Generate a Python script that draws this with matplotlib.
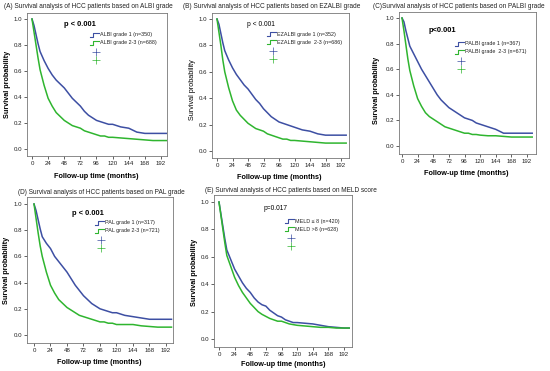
import matplotlib.pyplot as plt
import numpy as np

plt.rcParams['font.family'] = ['Liberation Sans', 'DejaVu Sans']

months = [0, 3, 6, 9, 12, 18, 24, 30, 36, 42, 48, 54, 60, 66, 72, 78, 84, 90,
          96, 102, 108, 114, 120, 132, 144, 156, 168, 180, 192, 200]

albi_1 = [1.0, 0.95, 0.88, 0.81, 0.75, 0.68, 0.62, 0.57, 0.53, 0.50, 0.47, 0.43, 0.39, 0.36, 0.33,
          0.29, 0.26, 0.24, 0.22, 0.21, 0.20, 0.19, 0.19, 0.17, 0.16, 0.13, 0.12, 0.12, 0.12, 0.12]
albi_2 = [1.0, 0.90, 0.80, 0.70, 0.61, 0.49, 0.39, 0.33, 0.28, 0.25, 0.22, 0.20, 0.18, 0.17, 0.16,
          0.14, 0.13, 0.12, 0.11, 0.10, 0.10, 0.09, 0.09, 0.085, 0.08, 0.075, 0.07, 0.065, 0.065, 0.065]
ezalbi_1 = [1.0, 0.96, 0.89, 0.82, 0.76, 0.69, 0.63, 0.58, 0.54, 0.50, 0.47, 0.43, 0.39, 0.36, 0.32,
            0.29, 0.26, 0.24, 0.22, 0.21, 0.20, 0.19, 0.18, 0.16, 0.15, 0.13, 0.12, 0.12, 0.12, 0.12]
ezalbi_2 = [1.0, 0.90, 0.80, 0.69, 0.60, 0.48, 0.38, 0.31, 0.27, 0.24, 0.21, 0.19, 0.17, 0.16, 0.15,
            0.13, 0.12, 0.11, 0.10, 0.09, 0.09, 0.08, 0.08, 0.075, 0.07, 0.065, 0.06, 0.06, 0.06, 0.06]
palbi_1 = [1.0, 0.97, 0.90, 0.84, 0.78, 0.72, 0.66, 0.60, 0.55, 0.50, 0.45, 0.40, 0.36, 0.33, 0.30,
           0.28, 0.26, 0.24, 0.22, 0.21, 0.20, 0.18, 0.17, 0.15, 0.13, 0.10, 0.10, 0.10, 0.10, 0.10]
palbi_2 = [1.0, 0.90, 0.79, 0.68, 0.59, 0.47, 0.37, 0.31, 0.26, 0.23, 0.21, 0.19, 0.17, 0.15, 0.14,
           0.13, 0.12, 0.11, 0.10, 0.10, 0.09, 0.09, 0.085, 0.08, 0.08, 0.075, 0.07, 0.07, 0.07, 0.07]
pal_1 = [1.0, 0.95, 0.88, 0.81, 0.75, 0.70, 0.66, 0.60, 0.56, 0.52, 0.48, 0.43, 0.38, 0.34, 0.30,
         0.27, 0.24, 0.22, 0.20, 0.19, 0.18, 0.17, 0.17, 0.15, 0.14, 0.13, 0.12, 0.12, 0.12, 0.12]
pal_2 = [1.0, 0.89, 0.78, 0.68, 0.60, 0.48, 0.38, 0.32, 0.27, 0.24, 0.21, 0.19, 0.17, 0.15, 0.14,
         0.13, 0.12, 0.11, 0.10, 0.10, 0.09, 0.09, 0.08, 0.08, 0.08, 0.07, 0.065, 0.06, 0.06, 0.06]
meld_lo = [1.0, 0.91, 0.82, 0.73, 0.65, 0.58, 0.51, 0.46, 0.41, 0.37, 0.34, 0.30, 0.27, 0.25, 0.24,
           0.21, 0.19, 0.17, 0.16, 0.14, 0.13, 0.12, 0.12, 0.115, 0.11, 0.10, 0.09, 0.085, 0.08, 0.08]
meld_hi = [1.0, 0.90, 0.80, 0.70, 0.61, 0.53, 0.45, 0.39, 0.34, 0.30, 0.26, 0.23, 0.20, 0.18, 0.165,
           0.15, 0.14, 0.13, 0.13, 0.12, 0.11, 0.105, 0.10, 0.095, 0.09, 0.085, 0.085, 0.08, 0.08, 0.08]

titles = ['(A) Survival analysis of HCC patients based on ALBI grade',
          '(B) Survival analysis of HCC patients based on EZALBI grade',
          '(C)Survival analysis of HCC patients based on PALBI grade',
          '(D) Survival analysis of HCC patients based on PAL grade',
          '(E) Survival analysis of HCC patients based on MELD score']
legend_labels = [['ALBI grade 1 (n=350)', 'ALBI grade 2-3 (n=688)'],
                 ['EZALBI grade 1 (n=352)', 'EZALBI grade  2-3 (n=686)'],
                 ['PALBI grade 1 (n=367)', 'PALBI grade  2-3 (n=671)'],
                 ['PAL grade 1 (n=317)', 'PAL grade 2-3 (n=721)'],
                 ['MELD \u2264 8 (n=420)', 'MELD >8 (n=628)']]
p_labels = ['p < 0.001', 'p < 0.001', 'p<0.001', 'p < 0.001', 'p=0.017']
curves = [(albi_1, albi_2), (ezalbi_1, ezalbi_2), (palbi_1, palbi_2),
          (pal_1, pal_2), (meld_lo, meld_hi)]

W, H = 550, 371
blue = '#3d4fa3'
green = '#2fb52f'

# pixel layout: x of 0 / 192 months, y of 1.0 / 0.0, frame left/right/top/bottom
layout = [(32, 161, 19, 149, 27, 167, 13, 156),
          (217, 341, 19, 151, 212, 349, 13, 158),
          (402, 527, 18, 146, 399, 536, 12, 154),
          (34, 166, 204, 335, 27, 173, 197, 343),
          (219, 344, 202, 339, 214, 352, 195, 347)]
title_pos = [(4, 6), (183, 6), (373, 6), (18, 192), (205, 191)]
ylab_pos = [(8, 84), (192, 90), (376, 90), (7, 270), (194, 272)]
xlab_pos = [(96, 176), (279, 178), (466, 174), (99, 363), (283, 365)]
p_pos = [(48, 0.96, True), (46, 0.955, False), (40, 0.905, True), (55, 0.93, True), (68, 0.95, False)]
leg_pos = [(86, 0.877), (77, 0.886), (81, 0.80), (89, 0.855), (101, 0.86)]
bold_ylab = [True, False, True, True, True]

fig = plt.figure(figsize=(5.5, 3.71), dpi=100)

for i in range(5):
    x0, x192, y1, y0, L, R, T, B = layout[i]
    mpp = 192.0 / (x192 - x0)
    upp = 1.0 / (y0 - y1)
    ax = fig.add_axes([L / W, 1 - B / H, (R - L) / W, (B - T) / H])
    ax.set_xlim((L - x0) * mpp, (R - x0) * mpp)
    ax.set_ylim((y0 - B) * upp, (y0 - T) * upp)

    s1, s2 = curves[i]
    ax.plot(months, s1, color=blue, lw=1.1)
    ax.plot(months, s2, color=green, lw=1.1)

    ax.set_xticks(np.arange(0, 193, 24))
    ax.set_yticks(np.arange(0, 1.01, 0.2))
    ax.set_yticklabels(['%.1f' % v for v in np.arange(0, 1.01, 0.2)])
    ax.tick_params(labelsize=4.4, length=2, width=0.5, pad=1.5, colors='#222222')
    for sp in ax.spines.values():
        sp.set_color('#777777')
        sp.set_linewidth(0.6)

    px, py, pb = p_pos[i]
    ax.text(px, py, p_labels[i], fontsize=5.4 if pb else 4.8,
            fontweight='bold' if pb else 'normal', va='center')

    lx, ly = leg_pos[i]
    for j, col in enumerate([blue, green]):
        yy = ly - j * 8 * upp
        ax.plot([lx, lx + 3 * mpp, lx + 3 * mpp, lx + 9 * mpp],
                [yy - 2 * upp, yy - 2 * upp, yy + 2 * upp, yy + 2 * upp], color=col, lw=0.8)
        ax.text(lx + 10 * mpp, yy, legend_labels[i][j], fontsize=3.9, va='center', color='#222222')
        ax.plot(lx + 6 * mpp, ly - (17 + j * 8) * upp, marker='+', color=col,
                markersize=5.5, markeredgewidth=0.5)

    fig.text(title_pos[i][0] / W, 1 - title_pos[i][1] / H, titles[i], fontsize=4.7,
             va='center', ha='left', color='#222222')
    fig.text(ylab_pos[i][0] / W, 1 - ylab_pos[i][1] / H, 'Survival probability', fontsize=5.2,
             rotation=90, va='center', ha='center',
             fontweight='bold' if bold_ylab[i] else 'normal')
    fig.text(xlab_pos[i][0] / W, 1 - xlab_pos[i][1] / H, 'Follow-up time (months)', fontsize=5.2,
             va='center', ha='center', fontweight='bold')

fig.savefig('out.png', dpi=100)
